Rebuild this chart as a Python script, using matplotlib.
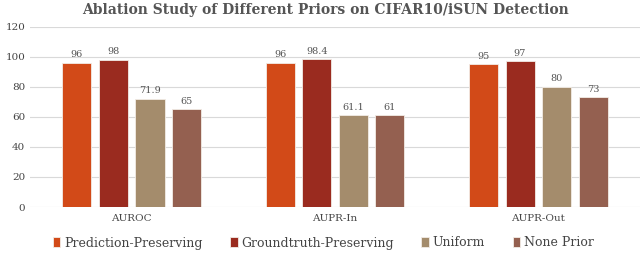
import numpy as np
import matplotlib.pyplot as plt

# data
metrics = ['AUROC', 'AUPR-In', 'AUPR-Out']
priors = ['Prediction-Preserving', 'Groundtruth-Preserving', 'Uniform', 'None Prior']
pred_pres = [96, 96, 95]
gt_pres = [98, 98.4, 97]
uniform = [71.9, 61.1, 80]
none_prior = [65, 61, 73]
values = [pred_pres, gt_pres, uniform, none_prior]
labels = [['96', '96', '95'], ['98', '98.4', '97'], ['71.9', '61.1', '80'], ['65', '61', '73']]

colors = ['#D24A18', '#9A2B1F', '#A48C6C', '#946050']

plt.rcParams['font.family'] = ['DejaVu Serif']

fig = plt.figure(figsize=(6.4, 2.54), dpi=100)
ax = fig.add_axes([0.047, 0.185, 0.953, 0.709])

x = np.arange(len(metrics))
w = 0.143
pitch = 0.18
for i, (vals, c) in enumerate(zip(values, colors)):
    pos = x + (i - 1.5) * pitch
    ax.bar(pos, vals, width=w, color=c, edgecolor='#f2ece6', linewidth=0.6,
           label=priors[i], zorder=3)
    for p, v, t in zip(pos, vals, labels[i]):
        ax.text(p, v + 2.5, t, ha='center', va='bottom', fontsize=7, color='#555555')

ax.set_xlim(-0.5, 2.5)
ax.set_ylim(0, 120)
ax.set_yticks(range(0, 121, 20))
ax.set_xticks(x)
ax.set_xticklabels(metrics)
ax.tick_params(axis='both', length=0, labelsize=7.5, colors='#444444')
ax.tick_params(axis='x', pad=5)
ax.grid(axis='y', color='#d9d9d9', linewidth=0.8, zorder=0)
for s in ax.spines.values():
    s.set_visible(False)

fig.text(0.508, 1 - 10 / 254, 'Ablation Study of Different Priors on CIFAR10/iSUN Detection',
         ha='center', va='center', fontsize=10, color='#555555', fontweight='bold')

fig.legend(loc='center', bbox_to_anchor=(0.505, 1 - 243 / 254), ncol=4, frameon=False,
           fontsize=9, handlelength=0.6, handleheight=0.8, handletextpad=0.3,
           columnspacing=2.2, labelcolor='#444444')

fig.savefig('out.png', dpi=100)
